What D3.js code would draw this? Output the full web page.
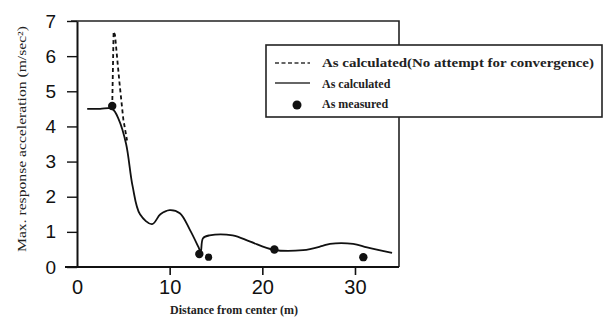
<!DOCTYPE html>
<html>
<head>
<meta charset="utf-8">
<style>
  body { margin: 0; background: #fff; }
  svg { display: block; }
</style>
</head>
<body>
<div id="container"></div>
<script src="https://cdn.jsdelivr.net/npm/d3@7"></script>
<script>

// values
var calcX = [1.1, 2.5, 3.8, 4.5, 5.3, 6.0, 6.8, 8.1, 9.0, 10.0, 11.1, 12.2, 13.1, 13.35, 13.6, 14.3, 16.8, 18.7, 21.2, 24.4, 26.5, 27.3, 29.8, 31.3, 34.0];
var calcY = [4.5, 4.5, 4.5, 4.2, 3.5, 2.3, 1.5, 1.22, 1.5, 1.62, 1.53, 1.05, 0.57, 0.43, 0.82, 0.9, 0.9, 0.72, 0.49, 0.48, 0.6, 0.66, 0.66, 0.56, 0.4];

var noConvX = [3.8, 3.95, 4.1, 4.6, 5.0, 5.4];
var noConvY = [4.55, 6.7, 6.6, 5.2, 4.2, 3.6];

var measX = [3.8, 13.2, 14.2, 21.3, 30.9];
var measY = [4.58, 0.37, 0.28, 0.5, 0.28];

var xTicks = [0, 10, 20, 30];
var yTicks = [0, 1, 2, 3, 4, 5, 6, 7];

var legendLabels = ["As calculated(No attempt for convergence)", "As calculated", "As measured"];

var W = 607, H = 322;
var margin = {top: 21, right: 208, bottom: 55, left: 77};

var svg = d3.select("#container")
  .append("svg")
    .attr("width", W)
    .attr("height", H);

var x = d3.scaleLinear()
  .domain([0, 34.75])
  .range([margin.left, W - margin.right]);

var y = d3.scaleLinear()
  .domain([0, 7])
  .range([H - margin.bottom, margin.top]);

var tickFont = "'Liberation Sans Narrow', 'Liberation Sans', Arial, sans-serif";
var serif = "'Liberation Serif', 'DejaVu Serif', serif";

// frame (top and right)
svg.append("path")
  .attr("d", "M" + (x(0) - 6) + "," + y(7) + "H" + x(34.75) + "V" + y(0))
  .attr("fill", "none")
  .attr("stroke", "#222")
  .attr("stroke-width", 1.6);

// x axis
var xAxis = svg.append("g")
  .attr("transform", "translate(0," + y(0) + ")")
  .call(d3.axisBottom(x).tickValues(xTicks).tickSize(8).tickPadding(5).tickSizeOuter(0));
xAxis.select(".domain").remove();
xAxis.append("line")
  .attr("x1", x(0) - 12).attr("x2", x(34.75))
  .attr("stroke", "#111").attr("stroke-width", 2);
xAxis.selectAll(".tick line").attr("stroke", "#111").attr("stroke-width", 1.6);
xAxis.selectAll(".tick:first-of-type line").remove();
xAxis.selectAll("text")
  .attr("fill", "#111")
  .style("font-family", tickFont)
  .style("font-size", "20px");

// y axis
var yAxis = svg.append("g")
  .attr("transform", "translate(" + x(0) + ",0)")
  .call(d3.axisLeft(y).tickValues(yTicks).tickFormat(d3.format("d")).tickSize(10).tickPadding(11).tickSizeOuter(0));
yAxis.select(".domain").attr("stroke", "#111").attr("stroke-width", 2);
yAxis.selectAll(".tick line").attr("stroke", "#111").attr("stroke-width", 1.4);
yAxis.selectAll("text")
  .attr("fill", "#111")
  .style("font-family", tickFont)
  .style("font-size", "19px");

// axis titles
svg.append("text")
  .attr("x", 234)
  .attr("y", 314)
  .attr("text-anchor", "middle")
  .style("font-family", serif)
  .style("font-weight", "bold")
  .style("font-size", "12px")
  .attr("fill", "#222")
  .text("Distance from center (m)");

svg.append("text")
  .attr("transform", "translate(26," + 139 + ") rotate(-90)")
  .attr("text-anchor", "middle")
  .attr("textLength", 226)
  .attr("lengthAdjust", "spacingAndGlyphs")
  .style("font-family", serif)
  .style("font-size", "12.5px")
  .attr("fill", "#222")
  .text("Max. response acceleration (m/sec²)");

// lines
var calcData = calcX.map(function (d, i) { return [d, calcY[i]]; });
var noConvData = noConvX.map(function (d, i) { return [d, noConvY[i]]; });

var line = d3.line()
  .x(function (d) { return x(d[0]); })
  .y(function (d) { return y(d[1]); })
  .curve(d3.curveCatmullRom.alpha(0.5));

svg.append("path")
  .datum(calcData)
  .attr("d", line)
  .attr("fill", "none")
  .attr("stroke", "#111")
  .attr("stroke-width", 1.8);

svg.append("path")
  .datum(noConvData)
  .attr("d", d3.line()
    .x(function (d) { return x(d[0]); })
    .y(function (d) { return y(d[1]); }))
  .attr("fill", "none")
  .attr("stroke", "#111")
  .attr("stroke-width", 1.8)
  .attr("stroke-dasharray", "4,3");

svg.append("g")
  .selectAll("circle")
  .data(measX)
  .enter()
  .append("circle")
    .attr("cx", function (d) { return x(d); })
    .attr("cy", function (d, i) { return y(measY[i]); })
    .attr("r", function (d, i) { return i == 2 ? 3.6 : 4.2; })
    .attr("fill", "#111");

// legend
var legend = svg.append("g")
  .attr("transform", "translate(266,45)");

legend.append("rect")
  .attr("width", 336)
  .attr("height", 72)
  .attr("fill", "#fff")
  .attr("stroke", "#222")
  .attr("stroke-width", 1.6);

legend.append("line")
  .attr("x1", 9).attr("x2", 44).attr("y1", 18).attr("y2", 18)
  .attr("stroke", "#333").attr("stroke-width", 1.4)
  .attr("stroke-dasharray", "4,2.5");

legend.append("line")
  .attr("x1", 9).attr("x2", 44).attr("y1", 38).attr("y2", 38)
  .attr("stroke", "#333").attr("stroke-width", 1.4);

legend.append("circle")
  .attr("cx", 31).attr("cy", 60).attr("r", 4.5)
  .attr("fill", "#111");

legendLabels.forEach(function (d, i) {
  var t = legend.append("text")
    .attr("x", 56)
    .attr("y", 22 + i * 20.5)
    .style("font-family", serif)
    .style("font-weight", "bold")
    .style("font-size", "12px")
    .attr("fill", "#222")
    .text(d);
  if (i == 0) t.attr("textLength", 272).attr("lengthAdjust", "spacingAndGlyphs");
});

</script>
</body>
</html>
